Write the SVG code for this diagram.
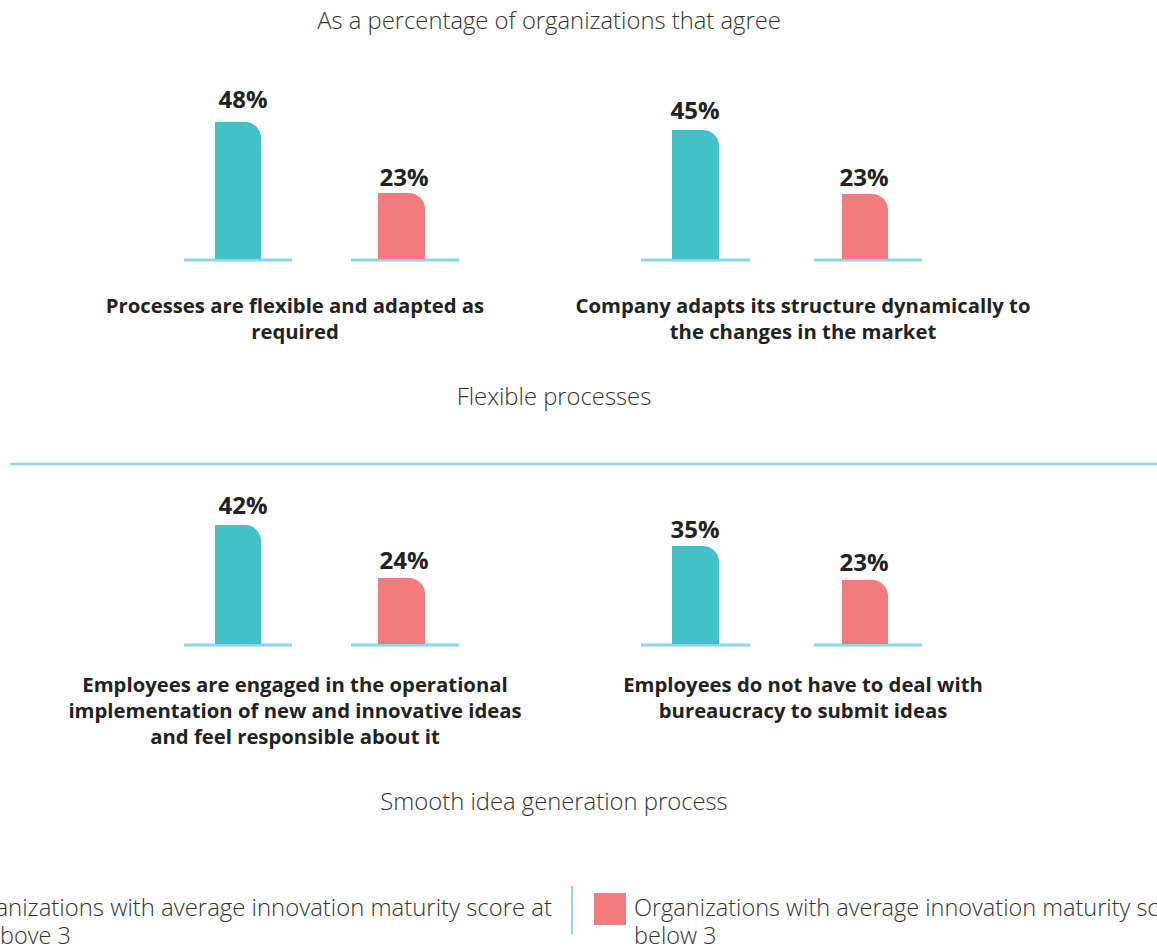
<svg xmlns="http://www.w3.org/2000/svg" width="1157" height="950" viewBox="0 0 1157 950">
<style>
.hi{fill:#43C1C7}
.lo{fill:#F27B80}
.base{stroke:#8AD6EE;stroke-width:3}
.val{font-family:"Open Sans","Noto Sans",sans-serif;font-weight:700;font-size:24px;fill:#222;text-anchor:middle}
.lab{font-family:"Open Sans","Noto Sans",sans-serif;font-weight:700;font-size:20.3px;fill:#222;text-anchor:middle}
.ttl{font-family:"Open Sans","Noto Sans",sans-serif;font-weight:300;font-size:23.8px;fill:#333;text-anchor:middle}
.leg{font-family:"Open Sans","Noto Sans",sans-serif;font-weight:300;font-size:23.5px;fill:#333}
</style>
<rect width="1157" height="950" fill="#fff"/>
<text class="ttl" x="549" y="29">As a percentage of organizations that agree</text>

<g id="chart1">
<line class="base" x1="184" y1="260" x2="292" y2="260"/>
<line class="base" x1="351" y1="260" x2="459" y2="260"/>
<path class="hi" d="M215,259 V122 H245 A16,16 0 0 1 261,138 V259 Z"/>
<path class="lo" d="M378,259 V193 H409 A16,16 0 0 1 425,209 V259 Z"/>
<text class="val" x="243" y="108">48%</text>
<text class="val" x="404" y="186">23%</text>
<text class="lab" x="295" y="313">Processes are flexible and adapted as</text>
<text class="lab" x="295" y="339">required</text>
</g>

<g id="chart2">
<line class="base" x1="641" y1="260" x2="750" y2="260"/>
<line class="base" x1="814" y1="260" x2="922" y2="260"/>
<path class="hi" d="M672,259 V130 H703 A16,16 0 0 1 719,146 V259 Z"/>
<path class="lo" d="M842,259 V194 H872 A16,16 0 0 1 888,210 V259 Z"/>
<text class="val" x="695" y="119">45%</text>
<text class="val" x="864" y="186">23%</text>
<text class="lab" x="803" y="313">Company adapts its structure dynamically to</text>
<text class="lab" x="803" y="339">the changes in the market</text>
</g>

<text class="ttl" x="554" y="405">Flexible processes</text>
<line x1="10" y1="464" x2="1157" y2="464" stroke="#8AD6EE" stroke-width="2.5"/>

<g id="chart3">
<line class="base" x1="184" y1="645" x2="292" y2="645"/>
<line class="base" x1="351" y1="645" x2="459" y2="645"/>
<path class="hi" d="M215,644 V525 H245 A16,16 0 0 1 261,541 V644 Z"/>
<path class="lo" d="M378,644 V578 H409 A16,16 0 0 1 425,594 V644 Z"/>
<text class="val" x="243" y="514">42%</text>
<text class="val" x="404" y="569">24%</text>
<text class="lab" x="295" y="692">Employees are engaged in the operational</text>
<text class="lab" x="295" y="718">implementation of new and innovative ideas</text>
<text class="lab" x="295" y="744">and feel responsible about it</text>
</g>

<g id="chart4">
<line class="base" x1="641" y1="645" x2="750" y2="645"/>
<line class="base" x1="814" y1="645" x2="922" y2="645"/>
<path class="hi" d="M672,644 V546 H703 A16,16 0 0 1 719,562 V644 Z"/>
<path class="lo" d="M842,644 V580 H872 A16,16 0 0 1 888,596 V644 Z"/>
<text class="val" x="695" y="538">35%</text>
<text class="val" x="864" y="571">23%</text>
<text class="lab" x="803" y="692">Employees do not have to deal with</text>
<text class="lab" x="803" y="718">bureaucracy to submit ideas</text>
</g>

<text class="ttl" x="554" y="810">Smooth idea generation process</text>

<g id="legend">
<text class="leg" x="552" y="916" text-anchor="end" style="font-size:23.9px">Organizations with average innovation maturity score at</text>
<text class="leg" x="0" y="944">bove 3</text>
<line x1="572" y1="886" x2="572" y2="934" stroke="#8AD6EE" stroke-width="2"/>
<rect class="lo" x="594" y="893" width="32" height="32"/>
<text class="leg" x="634" y="916">Organizations with average innovation maturity score at</text>
<text class="leg" x="634" y="944">below 3</text>
</g>
</svg>
